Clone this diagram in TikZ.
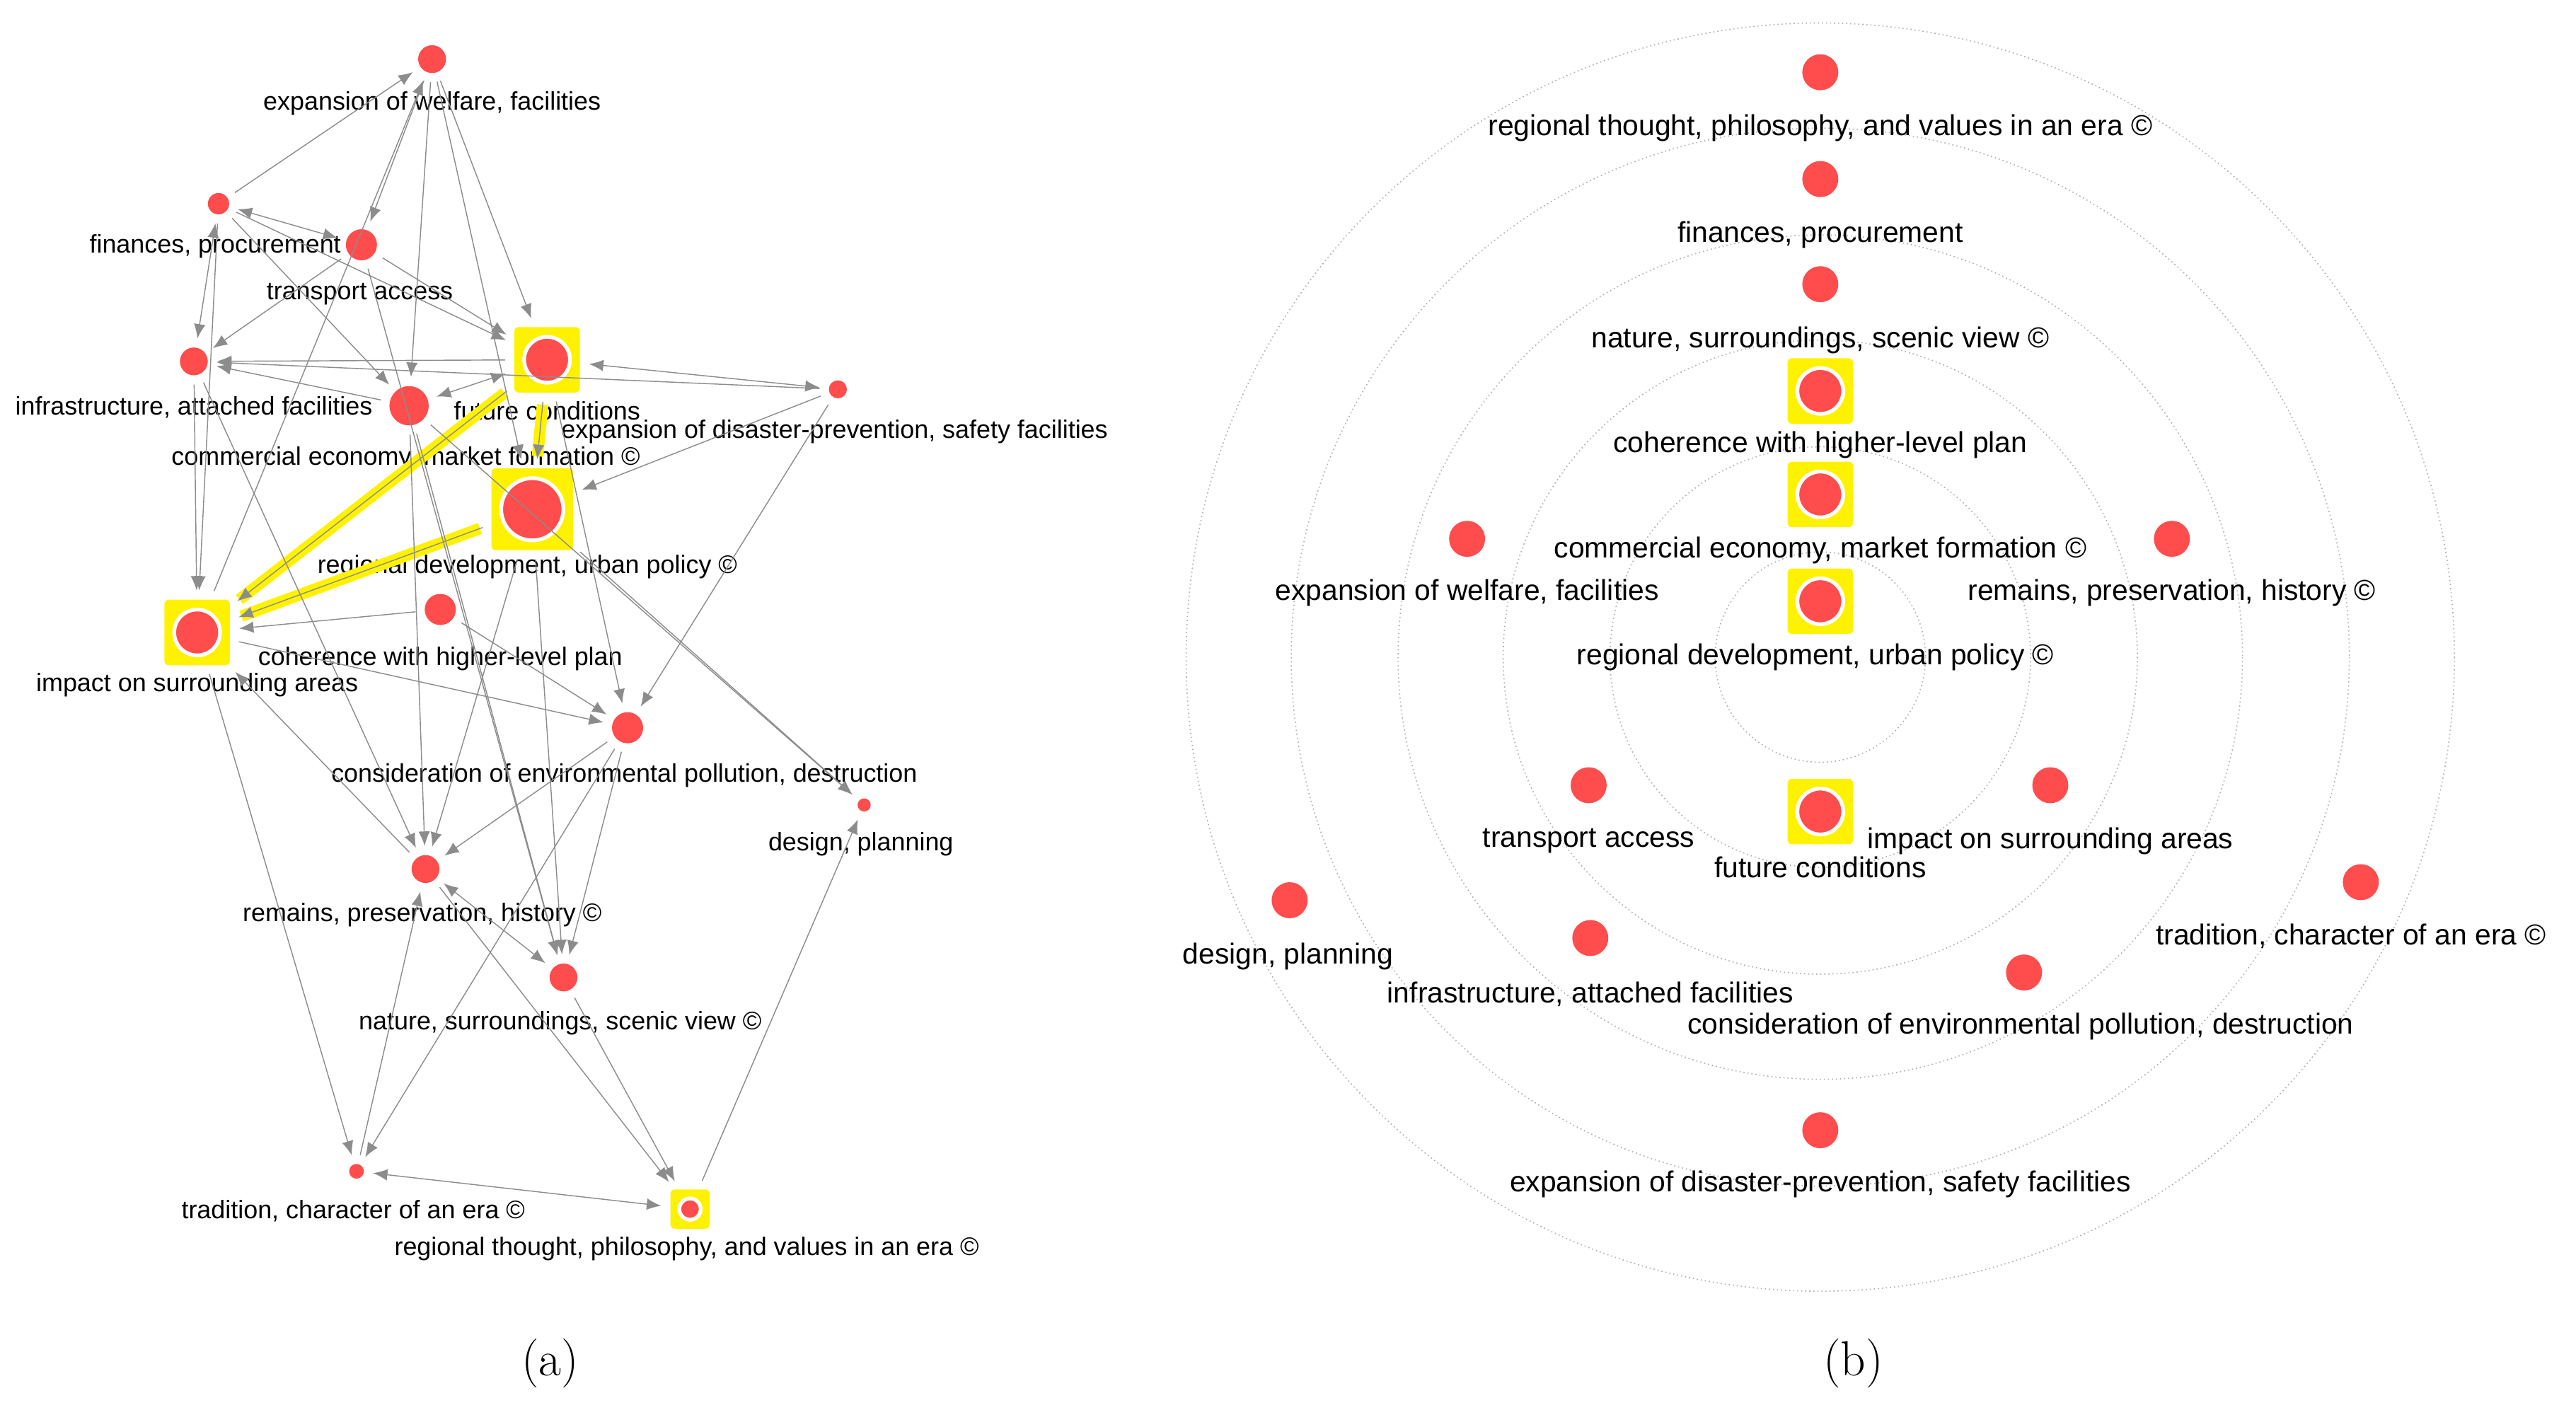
\documentclass[tikz,border=0pt]{standalone}
\usepackage{fontspec}
\setmainfont{Liberation Sans}
\newfontfamily\capfont{Latin Modern Roman}
\usetikzlibrary{positioning,arrows.meta}
\definecolor{dotred}{RGB}{255,76,76}
\definecolor{edgegray}{RGB}{140,140,140}
\definecolor{ringgray}{RGB}{175,175,175}
\tikzset{
  dot/.style={circle,fill=dotred,inner sep=0pt,minimum size=#1*0.567pt},
  hub/.style={fill=yellow,inner sep=0pt,minimum size=#1*0.567pt,rounded corners=1.5pt},
  ring/.style={circle,fill=dotred,draw=white,line width=1.3pt,inner sep=0pt,minimum size=#1*0.567pt},
  lab/.style={font=\fontsize{8.8}{10}\selectfont,inner sep=1pt},
  blab/.style={font=\fontsize{10}{11}\selectfont,inner sep=1pt},
  edge/.style={edgegray,line width=0.35pt,-{Latex[length=5pt,width=4pt]},shorten >=3pt,shorten <=3pt},
  bedge/.style={edgegray,line width=0.35pt,{Latex[length=5pt,width=4pt]}-{Latex[length=5pt,width=4pt]},shorten >=3pt,shorten <=3pt},
  hot/.style={yellow,line width=4pt,shorten >=4pt,shorten <=4pt},
  orbit/.style={ringgray,densely dotted,line width=0.4pt}
}
\begin{document}
\begin{tikzpicture}[x=0.02cm,y=-0.02cm]
\useasboundingbox (0,0) rectangle (1568,855);

% panel (a)
\node[dot=17] (aW) at (263,36) {};
\node[dot=13] (aF) at (133,124) {};
\node[dot=19] (aT) at (220,149) {};
\node[dot=17] (aI) at (118,220) {};
\node[dot=24] (aC) at (249,247) {};
\node[hub=40] (aU) at (333,219) {};
\node[ring=28] at (aU) {};
\node[dot=11] (aD) at (510,237) {};
\node[hub=50] (aR) at (324,310) {};
\node[ring=38] at (aR) {};
\node[hub=40] (aM) at (120,385) {};
\node[ring=28] at (aM) {};
\node[dot=19] (aH) at (268,371) {};
\node[dot=19] (aE) at (382,443) {};
\node[dot=8] (aP) at (526,490) {};
\node[dot=17] (aS) at (259,529) {};
\node[dot=17] (aN) at (343,595) {};
\node[dot=9] (aTr) at (217,713) {};
\node[hub=24] (aV) at (420,736) {};
\node[ring=13] at (aV) {};

\node[lab] (laW) at (263,63) {expansion of welfare, facilities};
\node[lab] (laF) at (131,150) {finances, procurement};
\node[lab] (laT) at (219,179) {transport access};
\node[lab] (laI) at (118,248) {infrastructure, attached facilities};
\node[lab] (laU) at (333,250) {future conditions};
\node[lab] (laD) at (508,263) {expansion of disaster-prevention, safety facilities};
\node[lab] (laC) at (247,279) {commercial economy, market formation ©};
\node[lab] (laR) at (321,345) {regional development, urban policy ©};
\node[lab] (laH) at (268,401) {coherence with higher-level plan};
\node[lab] (laM) at (120,417) {impact on surrounding areas};
\node[lab] (laE) at (380,472) {consideration of environmental pollution, destruction};
\node[lab] (laP) at (524,514) {design, planning};
\node[lab] (laS) at (257,557) {remains, preservation, history ©};
\node[lab] (laN) at (341,623) {nature, surroundings, scenic view ©};
\node[lab] (laTr) at (215,737) {tradition, character of an era ©};
\node[lab] (laV) at (418,760) {regional thought, philosophy, and values in an era ©};

% strong links
\draw[hot] (aM) -- (aU);
\draw[hot] (aM) -- (aR);
\draw[hot] (aU) -- (aR);
\draw[edge] (aU) -- (aM);
\draw[edge] (aR) -- (aM);
\draw[edge] (aU) -- (aR);

% other links
\draw[edge] (aF) -- (aW);
\draw[edge] (aW) -- (aT);
\draw[edge] (aW) -- (aU);
\draw[edge] (aW) -- (aC);
\draw[edge] (aW) -- (aR);
\draw[edge] (aM) -- (aW);
\draw[bedge] (aF) -- (aT);
\draw[bedge] (aF) -- (aI);
\draw[edge] (aF) -- (aU);
\draw[edge] (aF) -- (aC);
\draw[edge] (aF) -- (aM);
\draw[edge] (aU) -- (aI);
\draw[edge] (aC) -- (aI);
\draw[edge] (aT) -- (aI);
\draw[edge] (aT) -- (aU);
\draw[edge] (aT) -- (aN);
\draw[bedge] (aU) -- (aD);
\draw[bedge] (aC) -- (aU);
\draw[edge] (aD) -- (aI);
\draw[edge] (aD) -- (aR);
\draw[edge] (aD) -- (aE);
\draw[edge] (aI) -- (aM);
\draw[edge] (aH) -- (aM);
\draw[edge] (aM) -- (aE);
\draw[edge] (aH) -- (aE);
\draw[edge] (aC) -- (aP);
\draw[edge] (aR) -- (aP);
\draw[edge] (aU) -- (aE);
\draw[edge] (aR) -- (aS);
\draw[edge] (aC) -- (aS);
\draw[edge] (aS) -- (aM);
\draw[edge] (aE) -- (aS);
\draw[bedge] (aS) -- (aN);
\draw[edge] (aC) -- (aN);
\draw[edge] (aR) -- (aN);
\draw[edge] (aE) -- (aN);
\draw[edge] (aS) -- (aV);
\draw[edge] (aN) -- (aV);
\draw[edge] (aV) -- (aP);
\draw[bedge] (aTr) -- (aV);
\draw[edge] (aM) -- (aTr);
\draw[edge] (aE) -- (aTr);
\draw[edge] (aTr) -- (aS);
\draw[edge] (aI) -- (aS);

% panel (b)
\coordinate (bO) at (1108,400);
\foreach \r in {64,128,193,257,322,386}
  \draw[orbit] (bO) circle[radius=\r];

\node[dot=22] (bV) at (1108,44) {};
\node[dot=22] (bF) at (1108,109) {};
\node[dot=22] (bN) at (1108,173) {};
\node[hub=40] (bH) at (1108,238) {};
\node[ring=28] at (bH) {};
\node[hub=40] (bC) at (1108,301) {};
\node[ring=28] at (bC) {};
\node[hub=40] (bR) at (1108,366) {};
\node[ring=28] at (bR) {};
\node[dot=22] (bW) at (893,328) {};
\node[dot=22] (bS) at (1322,328) {};
\node[dot=22] (bT) at (967,478) {};
\node[hub=40] (bU) at (1108,494) {};
\node[ring=28] at (bU) {};
\node[dot=22] (bM) at (1248,478) {};
\node[dot=22] (bP) at (785,548) {};
\node[dot=22] (bTr) at (1437,537) {};
\node[dot=22] (bI) at (968,571) {};
\node[dot=22] (bE) at (1232,592) {};
\node[dot=22] (bD) at (1108,688) {};

\node[blab] (lbV) at (1108,78) {regional thought, philosophy, and values in an era ©};
\node[blab] (lbF) at (1108,143) {finances, procurement};
\node[blab] (lbN) at (1108,207) {nature, surroundings, scenic view ©};
\node[blab] (lbH) at (1108,271) {coherence with higher-level plan};
\node[blab] (lbC) at (1108,335) {commercial economy, market formation ©};
\node[blab] (lbW) at (893,361) {expansion of welfare, facilities};
\node[blab] (lbS) at (1322,361) {remains, preservation, history ©};
\node[blab] (lbR) at (1105,400) {regional development, urban policy ©};
\node[blab] (lbT) at (967,512) {transport access};
\node[blab] (lbM) at (1248,512) {impact on surrounding areas};
\node[blab] (lbU) at (1108,528) {future conditions};
\node[blab] (lbTr) at (1431,570) {tradition, character of an era ©};
\node[blab] (lbP) at (784,582) {design, planning};
\node[blab] (lbI) at (968,605) {infrastructure, attached facilities};
\node[blab] (lbE) at (1230,625) {consideration of environmental pollution, destruction};
\node[blab] (lbD) at (1108,721) {expansion of disaster-prevention, safety facilities};

\node[font=\capfont\fontsize{17}{20}\selectfont] (capA) at (335,830) {(a)};
\node[font=\capfont\fontsize{17}{20}\selectfont] (capB) at (1128,830) {(b)};
\end{tikzpicture}
\end{document}
